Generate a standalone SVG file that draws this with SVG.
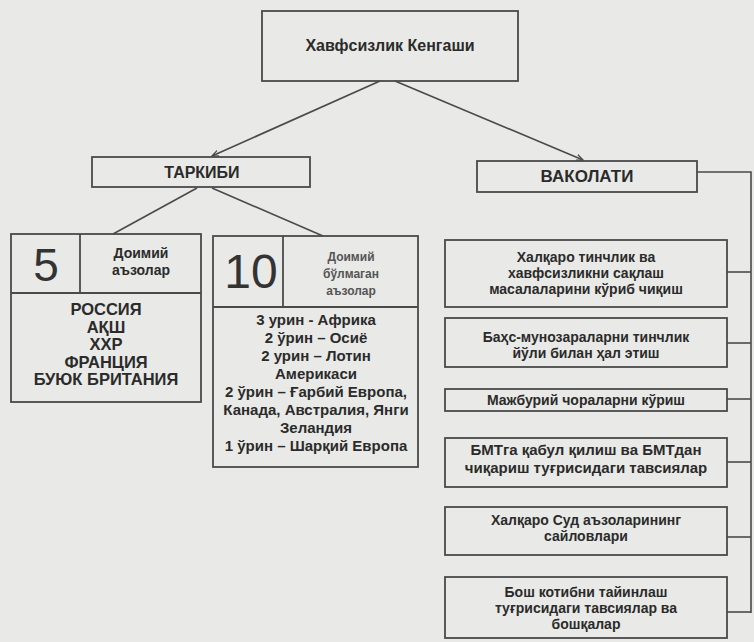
<svg xmlns="http://www.w3.org/2000/svg" width="754" height="642" viewBox="0 0 754 642">
<style>
.bx{fill:none;stroke:#4a4a4a;stroke-width:1.8}
.ln{fill:none;stroke:#4a4a4a;stroke-width:1.6}
text{font-family:"Liberation Sans",Arial,sans-serif;fill:#2b2b2b;text-anchor:middle}
.b{font-weight:bold}
.h{font-size:16px;font-weight:bold}
.l{font-size:15px;font-weight:bold}
.ll{font-size:16.5px;font-weight:bold}
.r{font-size:14px;font-weight:bold}
.big{font-weight:normal;fill:#333}
.sm{font-size:12px;font-weight:bold;fill:#555}
</style>
<defs>
<marker id="ah" markerWidth="8" markerHeight="8" refX="7" refY="4" orient="auto" markerUnits="userSpaceOnUse">
<path d="M0,1 L7,4 L0,7" fill="none" stroke="#4a4a4a" stroke-width="1.2"/>
</marker>
</defs>
<rect x="0" y="0" width="754" height="642" fill="#e9e9e7"/>
<g id="connectors">
<line class="ln" x1="380" y1="81" x2="212" y2="156" marker-end="url(#ah)"/>
<line class="ln" x1="395" y1="81" x2="583" y2="160" marker-end="url(#ah)"/>
<line class="ln" x1="197" y1="188" x2="113" y2="234"/>
<line class="ln" x1="212" y1="188" x2="323" y2="236"/>
<polyline class="ln" points="697,172 751,172 751,613"/>
<line class="ln" x1="727" y1="272" x2="751" y2="272"/>
<line class="ln" x1="727" y1="343" x2="751" y2="343"/>
<line class="ln" x1="727" y1="399" x2="751" y2="399"/>
<line class="ln" x1="727" y1="462" x2="751" y2="462"/>
<line class="ln" x1="727" y1="537" x2="751" y2="537"/>
<line class="ln" x1="727" y1="612" x2="751" y2="612"/>
</g>
<g id="council">
<rect class="bx" x="262" y="11" width="256" height="70"/>
<text class="h" x="390" y="51">Хавфсизлик Кенгаши</text>
</g>
<g id="tarkibi">
<rect class="bx" x="92" y="157" width="218" height="30"/>
<text class="h" x="202" y="178">ТАРКИБИ</text>
</g>
<g id="vakolati">
<rect class="bx" x="477" y="161" width="220" height="31"/>
<text class="b" x="587" y="182" font-size="17">ВАКОЛАТИ</text>
</g>
<g id="permanent">
<rect class="bx" x="11" y="234" width="190" height="168"/>
<line class="bx" x1="80" y1="234" x2="80" y2="293"/>
<line class="bx" x1="11" y1="293" x2="201" y2="293"/>
<text class="big" x="46" y="281" font-size="46">5</text>
<text class="b" x="141" y="258" font-size="14">Доимий</text>
<text class="b" x="141" y="275" font-size="14">аъзолар</text>
<text class="ll" x="106" y="315">РОССИЯ</text>
<text class="ll" x="106" y="332.5">АҚШ</text>
<text class="ll" x="106" y="350">ХХР</text>
<text class="ll" x="106" y="367.5">ФРАНЦИЯ</text>
<text class="ll" x="106" y="385">БУЮК БРИТАНИЯ</text>
</g>
<g id="nonpermanent">
<rect class="bx" x="213" y="236" width="205" height="231"/>
<line class="bx" x1="283" y1="236" x2="283" y2="307"/>
<line class="bx" x1="213" y1="307" x2="418" y2="307"/>
<text class="big" x="251" y="288" font-size="48">10</text>
<text class="sm" x="351" y="261">Доимий</text>
<text class="sm" x="351" y="278">бўлмаган</text>
<text class="sm" x="351" y="295">аъзолар</text>
<text class="l" x="316" y="325">3 урин - Африка</text>
<text class="l" x="316" y="343">2 ўрин – Осиё</text>
<text class="l" x="316" y="361">2 урин – Лотин</text>
<text class="l" x="316" y="379">Америкаси</text>
<text class="l" x="316" y="397">2 ўрин – Ғарбий Европа,</text>
<text class="l" x="316" y="415">Канада, Австралия, Янги</text>
<text class="l" x="316" y="433">Зеландия</text>
<text class="l" x="316" y="451">1 ўрин – Шарқий Европа</text>
</g>
<g id="power1">
<rect class="bx" x="445" y="240" width="282" height="67"/>
<text class="r" x="586" y="262">Халқаро тинчлик ва</text>
<text class="r" x="586" y="278">хавфсизликни сақлаш</text>
<text class="r" x="586" y="294">масалаларини кўриб чиқиш</text>
</g>
<g id="power2">
<rect class="bx" x="445" y="318" width="282" height="49"/>
<text class="r" x="586" y="342">Баҳс-мунозараларни тинчлик</text>
<text class="r" x="586" y="358">йўли билан ҳал этиш</text>
</g>
<g id="power3">
<rect class="bx" x="445" y="389" width="282" height="22"/>
<text class="r" x="586" y="405">Мажбурий чораларни кўриш</text>
</g>
<g id="power4">
<rect class="bx" x="445" y="438" width="282" height="49"/>
<text class="b" x="586" y="455" font-size="15">БМТга қабул қилиш ва БМТдан</text>
<text class="b" x="586" y="473" font-size="15">чиқариш туғрисидаги тавсиялар</text>
</g>
<g id="power5">
<rect class="bx" x="445" y="507" width="282" height="48"/>
<text class="r" x="586" y="525">Халқаро Суд аъзоларининг</text>
<text class="r" x="586" y="541">сайловлари</text>
</g>
<g id="power6">
<rect class="bx" x="445" y="577" width="282" height="61"/>
<text class="r" x="586" y="597">Бош котибни тайинлаш</text>
<text class="r" x="586" y="613">туғрисидаги тавсиялар ва</text>
<text class="r" x="586" y="629">бошқалар</text>
</g>
</svg>
